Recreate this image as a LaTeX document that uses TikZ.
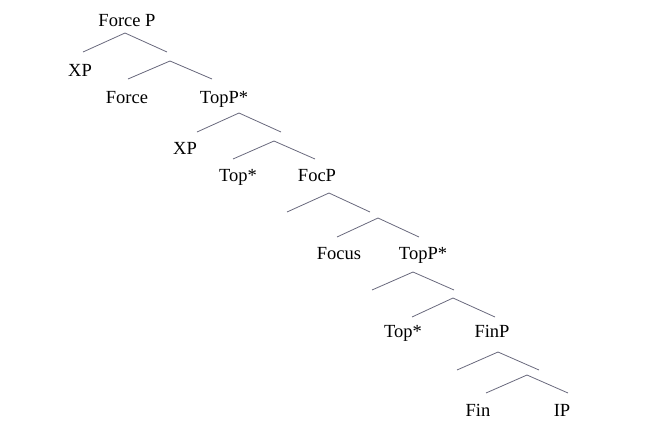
\documentclass[tikz,border=0pt]{standalone}
\usepackage{fontspec}
\setmainfont{Liberation Serif}
\usepackage{tikz}
\usetikzlibrary{positioning}

\definecolor{branch}{RGB}{105,105,125}

\begin{document}
\begin{tikzpicture}[
	x=1pt,y=-1pt,
	cat/.style={
		anchor=base,
		inner sep=0pt,
		font=\fontsize{18.5}{20}\selectfont
	},
	edge/.style={
		draw=branch,
		line width=0.8pt
	}
	]
	\useasboundingbox (0,0) rectangle (672,432);

	% labels
	\node[cat] (forcep) at (127,26) {Force P};
	\node[cat] (xp1) at (80,76) {XP};
	\node[cat] (force) at (127,103) {Force};
	\node[cat] (topp1) at (224,103) {TopP*};
	\node[cat] (xp2) at (185,154) {XP};
	\node[cat] (top1) at (238,181) {Top*};
	\node[cat] (focp) at (317,181) {FocP};
	\node[cat] (focus) at (339,259) {Focus};
	\node[cat] (topp2) at (423,259) {TopP*};
	\node[cat] (top2) at (403,337) {Top*};
	\node[cat] (finp) at (492,337) {FinP};
	\node[cat] (fin) at (478,416) {Fin};
	\node[cat] (ip) at (562,416) {IP};

	% branch points
	\coordinate (a1) at (125,33);
	\coordinate (a1l) at (83,52);
	\coordinate (a1r) at (167,52);
	\coordinate (b1) at (170,61);
	\coordinate (b1l) at (128,79);
	\coordinate (b1r) at (212,79);

	\coordinate (a2) at (239,113);
	\coordinate (a2l) at (197,132);
	\coordinate (a2r) at (281,132);
	\coordinate (b2) at (274,141);
	\coordinate (b2l) at (233,159);
	\coordinate (b2r) at (315,159);

	\coordinate (a3) at (329,193);
	\coordinate (a3l) at (287,212);
	\coordinate (a3r) at (370,212);
	\coordinate (b3) at (378,218);
	\coordinate (b3l) at (337,237);
	\coordinate (b3r) at (419,237);

	\coordinate (a4) at (413,272);
	\coordinate (a4l) at (372,290);
	\coordinate (a4r) at (454,290);
	\coordinate (b4) at (453,298);
	\coordinate (b4l) at (412,317);
	\coordinate (b4r) at (495,317);

	\coordinate (a5) at (498,352);
	\coordinate (a5l) at (457,370);
	\coordinate (a5r) at (539,370);
	\coordinate (b5) at (527,375);
	\coordinate (b5l) at (486,393);
	\coordinate (b5r) at (568,393);

	\draw[edge] (a1l) -- (a1) -- (a1r);
	\draw[edge] (b1l) -- (b1) -- (b1r);
	\draw[edge] (a2l) -- (a2) -- (a2r);
	\draw[edge] (b2l) -- (b2) -- (b2r);
	\draw[edge] (a3l) -- (a3) -- (a3r);
	\draw[edge] (b3l) -- (b3) -- (b3r);
	\draw[edge] (a4l) -- (a4) -- (a4r);
	\draw[edge] (b4l) -- (b4) -- (b4r);
	\draw[edge] (a5l) -- (a5) -- (a5r);
	\draw[edge] (b5l) -- (b5) -- (b5r);

\end{tikzpicture}
\end{document}
